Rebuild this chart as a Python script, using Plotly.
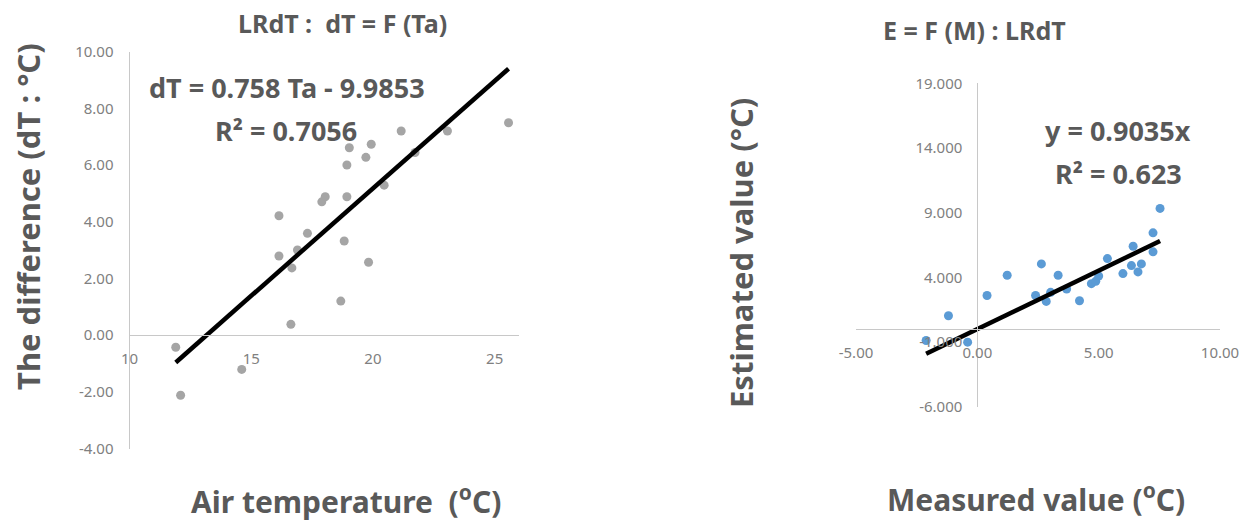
import plotly.graph_objects as go

W, H = 1247, 525

# ---------------- data ----------------
# Left chart: air temperature (Ta) vs dT
air_temp = [16.14, 17.31, 16.14, 16.90, 16.67, 18.82, 19.82, 17.90, 18.04, 18.93,
            18.93, 19.03, 19.71, 19.93, 20.46, 21.16, 21.73, 23.06, 25.57,
            16.63, 18.68, 11.90, 14.61, 12.10]
dT_vals = [4.21, 3.59, 2.79, 3.00, 2.37, 3.32, 2.57, 4.70, 4.88, 4.88,
           6.00, 6.61, 6.27, 6.73, 5.29, 7.20, 6.44, 7.20, 7.49,
           0.38, 1.20, -0.43, -1.21, -2.12]
left_slope = [0.758]
left_intercept = [-9.9853]
left_r2 = ["0.7056"]

# Right chart: measured vs estimated
measured = [-2.11, -1.19, -0.40, 0.40, 1.23, 2.40, 2.64, 2.84, 3.02, 3.33, 3.68, 4.21,
            4.70, 4.88, 5.00, 5.36, 6.00, 6.42, 6.35, 6.62, 6.76, 7.24, 7.24, 7.53]
estimated = [-0.88, 1.03, -1.01, 2.60, 4.16, 2.60, 5.04, 2.14, 2.84, 4.16, 3.10, 2.19,
             3.51, 3.69, 4.10, 5.45, 4.29, 6.40, 4.91, 4.42, 5.04, 7.44, 5.97, 9.33]
right_slope = [0.9035]
right_r2 = ["0.623"]

left_xticks = [10, 15, 20, 25]
left_yticks = [-4, -2, 0, 2, 4, 6, 8, 10]
right_xticks = [-5, 0, 5, 10]
right_yticks = [-6, -1, 4, 9, 14, 19]

# ---------------- layout helpers ----------------
def px_x(p):
    return p / W

def px_y(p):
    return 1 - p / H

L_XR, L_YR = [10, 26], [-4, 10]
R_XR, R_YR = [-5, 10], [-6, 19]
L_XD = [px_x(129.5), px_x(519)]
L_YD = [px_y(448.5), px_y(51.6)]
R_XD = [px_x(856), px_x(1220)]
R_YD = [px_y(406.7), px_y(83.3)]

def frac(v, rng, dom):
    return dom[0] + (v - rng[0]) / (rng[1] - rng[0]) * (dom[1] - dom[0])

TXT = "#595959"
TICK = "#808080"
AX = "#c8c8c8"
FONT = "Noto Sans"

fig = go.Figure()

# Left scatter
fig.add_trace(go.Scatter(x=air_temp, y=dT_vals, mode="markers",
                         marker=dict(color="#a5a5a5", size=9),
                         xaxis="x", yaxis="y", showlegend=False))
lx = [min(air_temp), max(air_temp)]
ly = [left_slope[0] * v + left_intercept[0] for v in lx]
fig.add_trace(go.Scatter(x=lx, y=ly, mode="lines",
                         line=dict(color="black", width=4.5),
                         xaxis="x", yaxis="y", showlegend=False))

# Right scatter
fig.add_trace(go.Scatter(x=measured, y=estimated, mode="markers",
                         marker=dict(color="#5b9bd5", size=9),
                         xaxis="x2", yaxis="y2", showlegend=False))
rx = [min(measured), max(measured)]
ry = [right_slope[0] * v for v in rx]
fig.add_trace(go.Scatter(x=rx, y=ry, mode="lines",
                         line=dict(color="black", width=4.5),
                         xaxis="x2", yaxis="y2", showlegend=False))

tickfont = dict(family=FONT, size=15, color=TICK)

fig.update_layout(
    width=W, height=H,
    margin=dict(l=0, r=0, t=0, b=0, pad=0, autoexpand=False),
    paper_bgcolor="white", plot_bgcolor="white",
    showlegend=False,
    hovermode=False,
    xaxis=dict(domain=L_XD, range=L_XR, anchor="free",
               position=frac(0, L_YR, L_YD), automargin=False,
               tickvals=left_xticks, ticktext=[str(v) for v in left_xticks],
               showgrid=False, zeroline=False, showline=True, linecolor=AX, linewidth=1,
               ticks="", ticklabelstandoff=10, tickfont=tickfont),
    yaxis=dict(domain=L_YD, range=L_YR, anchor="x", automargin=False,
               tickvals=left_yticks, ticktext=[f"{v:.2f}" for v in left_yticks],
               showgrid=False, zeroline=False, showline=True, linecolor=AX, linewidth=1,
               ticks="", ticklabelstandoff=12, tickfont=tickfont),
    xaxis2=dict(domain=R_XD, range=R_XR, anchor="free",
                position=frac(0, R_YR, R_YD), automargin=False,
                tickvals=right_xticks, ticktext=[f"{v:.2f}" for v in right_xticks],
                showgrid=False, zeroline=False, showline=True, linecolor=AX, linewidth=1,
                ticks="", ticklabelstandoff=10, tickfont=tickfont),
    yaxis2=dict(domain=R_YD, range=R_YR, anchor="free",
                position=frac(0, R_XR, R_XD), automargin=False,
                tickvals=right_yticks, ticktext=[f"{v:.3f}" for v in right_yticks],
                showgrid=False, zeroline=False, showline=True, linecolor=AX, linewidth=1,
                ticks="", ticklabelstandoff=12, tickfont=tickfont),
)

def ann(text, x, y, size, angle=0):
    fig.add_annotation(text=text, x=px_x(x), y=px_y(y), xref="paper", yref="paper",
                       showarrow=False, xanchor="center", yanchor="middle",
                       textangle=angle,
                       font=dict(family=FONT, size=size, color=TXT, weight="bold"))

# Titles
ann("LRdT :  dT = F (Ta)", 342, 23, 25)
ann("E = F (M) : LRdT", 974, 30, 25)
# Axis titles
ann("The difference (dT : °C)", 28, 217, 31, angle=-90)
ann("Air temperature  (<sup>o</sup>C)", 346, 500, 30)
ann("Estimated value (°C)", 741, 253, 31, angle=-90)
ann("Measured value (<sup>o</sup>C)", 1036, 498, 30)
# Regression texts
ann(f"dT = {left_slope[0]} Ta - {abs(left_intercept[0])}", 287, 87, 27)
ann(f"R² = {left_r2[0]}", 286, 130, 27)
ann(f"y = {right_slope[0]}x", 1118, 131, 27)
ann(f"R² = {right_r2[0]}", 1118, 173, 27)

fig.write_html(
    "out.html",
    config={"displayModeBar": False, "staticPlot": True},
    post_script="document.body.style.margin='0px';document.body.style.padding='0px';"
                "document.documentElement.style.overflow='hidden';",
)
